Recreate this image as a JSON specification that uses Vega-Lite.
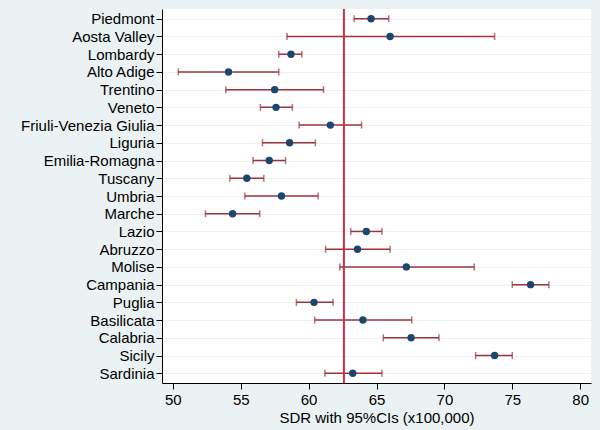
{
  "$schema": "https://vega.github.io/schema/vega-lite/v6.json",
  "autosize": "none",
  "width": 429,
  "height": 374,
  "padding": {"left": 162, "top": 9, "right": 9, "bottom": 47},
  "background": "#eaf2f3",
  "config": {
    "font": "Liberation Sans",
    "view": {"fill": "white", "stroke": null}
  },
  "datasets": {
    "regions": [
      {"region": "Piedmont", "sdr": 64.6, "lo": 63.35, "hi": 65.9},
      {"region": "Aosta Valley", "sdr": 66.0, "lo": 58.4, "hi": 73.7},
      {"region": "Lombardy", "sdr": 58.7, "lo": 57.8, "hi": 59.5},
      {"region": "Alto Adige", "sdr": 54.1, "lo": 50.4, "hi": 57.8},
      {"region": "Trentino", "sdr": 57.5, "lo": 53.9, "hi": 61.1},
      {"region": "Veneto", "sdr": 57.6, "lo": 56.45, "hi": 58.8},
      {"region": "Friuli-Venezia Giulia", "sdr": 61.6, "lo": 59.3, "hi": 63.9},
      {"region": "Liguria", "sdr": 58.6, "lo": 56.6, "hi": 60.5},
      {"region": "Emilia-Romagna", "sdr": 57.1, "lo": 55.9, "hi": 58.3},
      {"region": "Tuscany", "sdr": 55.45, "lo": 54.2, "hi": 56.7},
      {"region": "Umbria", "sdr": 58.0, "lo": 55.3, "hi": 60.7},
      {"region": "Marche", "sdr": 54.4, "lo": 52.4, "hi": 56.4},
      {"region": "Lazio", "sdr": 64.25, "lo": 63.1, "hi": 65.4},
      {"region": "Abruzzo", "sdr": 63.6, "lo": 61.25, "hi": 66.0},
      {"region": "Molise", "sdr": 67.2, "lo": 62.3, "hi": 72.2},
      {"region": "Campania", "sdr": 76.35, "lo": 75.0, "hi": 77.7},
      {"region": "Puglia", "sdr": 60.4, "lo": 59.1, "hi": 61.8},
      {"region": "Basilicata", "sdr": 64.0, "lo": 60.45, "hi": 67.6},
      {"region": "Calabria", "sdr": 67.55, "lo": 65.5, "hi": 69.6},
      {"region": "Sicily", "sdr": 73.7, "lo": 72.3, "hi": 75.0},
      {"region": "Sardinia", "sdr": 63.25, "lo": 61.2, "hi": 65.4}
    ],
    "ref": [{"ref": 62.6}]
  },
  "encoding": {
    "y": {
      "field": "region",
      "type": "nominal",
      "sort": null,
      "scale": {"type": "point", "padding": 0.55},
      "axis": {
        "title": null,
        "grid": true,
        "gridColor": "#eaf2f3",
        "gridWidth": 1,
        "domainColor": "black",
        "domainWidth": 1,
        "tickColor": "black",
        "tickSize": 6,
        "labelFontSize": 15,
        "labelColor": "black",
        "labelPadding": 2
      }
    }
  },
  "layer": [
    {
      "data": {"name": "regions"},
      "mark": {"type": "rule", "color": "#a0323c", "strokeWidth": 1.5},
      "encoding": {
        "x": {
          "field": "lo",
          "type": "quantitative",
          "scale": {"domain": [49.2, 80.8], "nice": false, "zero": false},
          "axis": {
            "title": "SDR with 95%CIs (x100,000)",
            "values": [50, 55, 60, 65, 70, 75, 80],
            "grid": false,
            "domainColor": "black",
            "domainWidth": 1,
            "tickColor": "black",
            "tickSize": 6,
            "labelFontSize": 15,
            "labelColor": "black",
            "labelPadding": 3,
            "titleFontSize": 15,
            "titleFontWeight": "normal",
            "titleColor": "black",
            "titlePadding": 3
          }
        },
        "x2": {"field": "hi"}
      }
    },
    {
      "data": {"name": "regions"},
      "mark": {"type": "tick", "color": "#a0323c", "thickness": 1.5, "size": 7, "orient": "vertical"},
      "encoding": {"x": {"field": "lo", "type": "quantitative"}}
    },
    {
      "data": {"name": "regions"},
      "mark": {"type": "tick", "color": "#a0323c", "thickness": 1.5, "size": 7, "orient": "vertical"},
      "encoding": {"x": {"field": "hi", "type": "quantitative"}}
    },
    {
      "data": {"name": "ref"},
      "mark": {"type": "rule", "color": "#c8304f", "strokeWidth": 2},
      "encoding": {"x": {"field": "ref", "type": "quantitative"}, "y": null}
    },
    {
      "data": {"name": "regions"},
      "mark": {"type": "point", "filled": true, "color": "#1a476f", "opacity": 1, "size": 55},
      "encoding": {"x": {"field": "sdr", "type": "quantitative"}}
    }
  ]
}
